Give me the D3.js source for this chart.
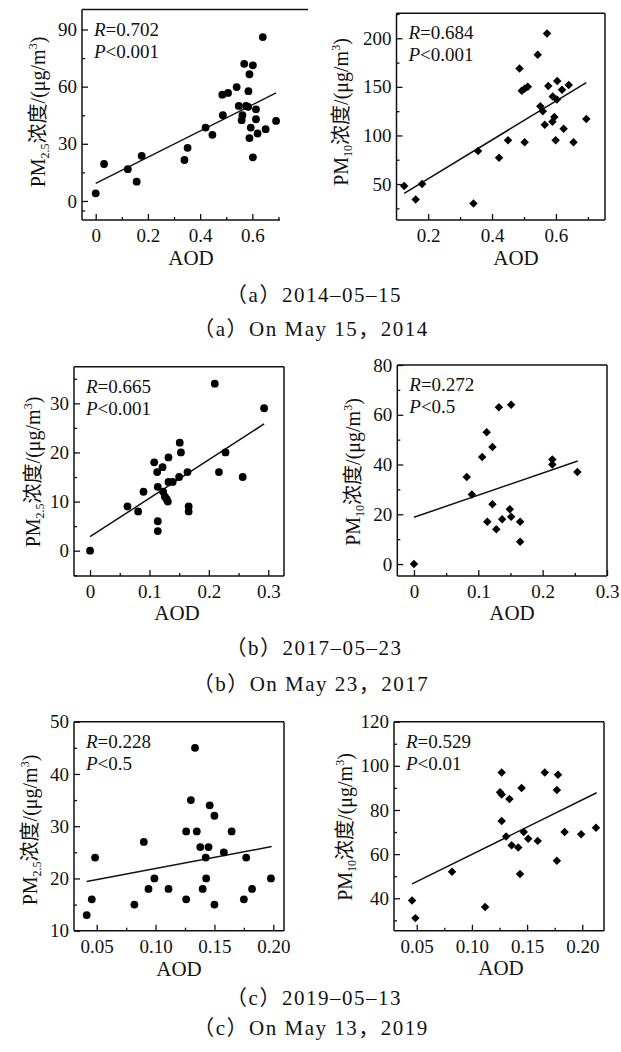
<!DOCTYPE html>
<html><head><meta charset="utf-8">
<script src="https://cdn.jsdelivr.net/npm/d3@7/dist/d3.min.js"></script>
<style>body{margin:0;background:#fff}svg{display:block}</style>
</head><body>
<svg id="chart" width="621" height="1052"></svg>
<script>
// ---------- DATA ----------
// (a) 2014-05-15
const aodA25 = [0, 0.032, 0.123, 0.157, 0.176, 0.34, 0.352, 0.421, 0.447, 0.485, 0.507, 0.487, 0.54, 0.548, 0.562, 0.559, 0.569, 0.576, 0.585, 0.589, 0.584, 0.602, 0.594, 0.589, 0.602, 0.614, 0.614, 0.62, 0.64, 0.651, 0.691];
const pmA25  = [4, 19.4, 16.7, 10.1, 23.7, 21.5, 27.9, 38.5, 34.7, 55.8, 56.7, 45, 59.8, 49.9, 45, 42.4, 72, 49.9, 57.6, 66.5, 49.4, 71.2, 38.5, 33, 22.9, 48.1, 42.9, 35.4, 86, 37.7, 42];
const aodA10 = [0.125, 0.161, 0.181, 0.342, 0.356, 0.422, 0.45, 0.486, 0.493, 0.502, 0.512, 0.502, 0.543, 0.551, 0.559, 0.572, 0.576, 0.565, 0.59, 0.595, 0.589, 0.603, 0.604, 0.599, 0.619, 0.624, 0.64, 0.655, 0.695];
const pmA10  = [48, 34, 50, 30, 84, 77, 95, 169, 146, 148, 150, 93, 183, 130, 125, 205, 151, 111, 140, 119, 114, 137, 156, 95, 147, 107, 152, 93, 117];
// (b) 2017-05-23
const aodB25 = [0, 0.063, 0.081, 0.09, 0.108, 0.113, 0.114, 0.114, 0.114, 0.122, 0.123, 0.126, 0.129, 0.132, 0.131, 0.132, 0.139, 0.151, 0.153, 0.15, 0.164, 0.166, 0.166, 0.21, 0.217, 0.228, 0.257, 0.293];
const pmB25  = [0, 9, 8, 12, 18, 16, 13, 6, 4, 17, 12, 11, 10.5, 19, 10, 14, 14, 22, 20, 15, 16, 9, 8, 34, 16, 20, 15, 29];
const aodB10 = [0, 0.082, 0.09, 0.106, 0.113, 0.114, 0.122, 0.122, 0.128, 0.132, 0.137, 0.149, 0.151, 0.151, 0.165, 0.165, 0.215, 0.215, 0.254];
const pmB10  = [0, 35, 28, 43, 53, 17, 47, 24, 14, 63, 18, 22, 19, 64, 17, 9, 42, 40, 37];
// (c) 2019-05-13
const aodC25 = [0.0415, 0.0458, 0.0486, 0.082, 0.09, 0.094, 0.099, 0.111, 0.126, 0.126, 0.13, 0.1335, 0.135, 0.138, 0.14, 0.1426, 0.143, 0.145, 0.146, 0.15, 0.15, 0.158, 0.1646, 0.177, 0.175, 0.182, 0.198];
const pmC25  = [13, 16, 24, 15, 27, 18, 20, 18, 16, 29, 35, 45, 29, 26, 18, 24, 20, 26, 34, 15, 32, 25, 29, 24, 16, 18, 20];
const aodC10 = [0.0458, 0.0488, 0.082, 0.112, 0.127, 0.1255, 0.127, 0.127, 0.131, 0.134, 0.136, 0.142, 0.1436, 0.145, 0.147, 0.151, 0.1596, 0.166, 0.177, 0.177, 0.178, 0.184, 0.199, 0.2124];
const pmC10  = [39, 31, 52, 36, 97, 88, 87, 75, 68, 85, 64, 63, 51, 90, 70, 67, 66, 97, 57, 89, 96, 70, 69, 72];

// regression lines (AOD start/end, PM start/end)
const fitX = [[0, 0.691], [0.125, 0.695], [0, 0.293], [0, 0.2545], [0.0415, 0.1986], [0.0458, 0.213]];
const fitY = [[9.2, 56.7], [40.4, 154.4], [2.85, 25.8], [18.8, 41.4], [19.4, 26.1], [46.5, 87.8]];

const rValues = ["0.702", "0.684", "0.665", "0.272", "0.228", "0.529"];
const pValues = ["0.001", "0.001", "0.001", "0.5", "0.5", "0.01"];
const pollutant = ["2.5", "10", "2.5", "10", "2.5", "10"];

// ticks
const xMajor = [[0, 0.2, 0.4, 0.6], [0.2, 0.4, 0.6], [0, 0.1, 0.2, 0.3], [0, 0.1, 0.2, 0.3], [0.05, 0.10, 0.15, 0.20], [0.05, 0.10, 0.15, 0.20]];
const xMinor = [[0.1, 0.3, 0.5, 0.7], [0.3, 0.5, 0.7], [0.05, 0.15, 0.25], [0.05, 0.15, 0.25], [0.075, 0.125, 0.175], [0.075, 0.125, 0.175]];
const yMajor = [[0, 30, 60, 90], [50, 100, 150, 200], [0, 10, 20, 30], [0, 20, 40, 60, 80], [10, 20, 30, 40, 50], [40, 60, 80, 100, 120]];
const yMinor = [[-5, 15, 45, 75], [25, 75, 125, 175, 225], [-5, 5, 15, 25, 35], [10, 30, 50, 70], [15, 25, 35, 45], [30, 50, 70, 90, 110]];
const xTickFormat = ["trim", "trim", "trim", "trim", "fixed2", "fixed2"];

const captionsCN = ["（a）2014–05–15", "（b）2017–05–23", "（c）2019–05–13"];
const captionsEN = ["（a）On May 15，2014", "（b）On May 23，2017", "（c）On May 13，2019"];

const xSeries = [aodA25, aodA10, aodB25, aodB10, aodC25, aodC10];
const ySeries = [pmA25, pmA10, pmB25, pmB10, pmC25, pmC10];

// ---------- LAYOUT ----------
const layout = [
  {l: 82,    r: 280,   t: 9.5,   b: 220,   xd: [-0.0525, 0.706], yd: [-10, 100.5], rightBorder: false, topEnd: 308, ylx: 45,  yly: 112, aodx: 191, aody: 265},
  {l: 396.5, r: 605,   t: 13.3,  b: 220,   xd: [0.101, 0.7535],  yd: [13, 225.7],  rightBorder: true,  ylx: 348, yly: 112, aodx: 516, aody: 265},
  {l: 74,    r: 284,   t: 366.7, b: 576,   xd: [-0.027, 0.3265], yd: [-5.15, 37.46], rightBorder: true, ylx: 40, yly: 472, aodx: 177, aody: 620},
  {l: 397.3, r: 607,   t: 365,   b: 576,   xd: [-0.0259, 0.3],   yd: [-4.8, 80],   rightBorder: true,  ylx: 360, yly: 472, aodx: 512, aody: 620},
  {l: 74,    r: 284,   t: 721.7, b: 930.7, xd: [0.0307, 0.2091], yd: [10, 50],     rightBorder: true,  ylx: 37,  yly: 830, aodx: 179, aody: 976},
  {l: 394,   r: 604,   t: 721.7, b: 930.7, xd: [0.0294, 0.2197], yd: [25.3, 120],  rightBorder: true,  ylx: 352, yly: 827, aodx: 501, aody: 975}
];
const captionPos = [[302, 336], [655, 691], [1005, 1035]];

const svg = d3.select("#chart");
const SERIF = "'Liberation Serif','Times New Roman','Noto Sans CJK SC',serif";
const fmtTrim = d => d3.format("~g")(d);
const fmtFixed = d3.format(".2f");

layout.forEach((L, i) => {
  const x = d3.scaleLinear().domain(L.xd).range([L.l, L.r]);
  const y = d3.scaleLinear().domain(L.yd).range([L.b, L.t]);
  const g = svg.append("g");

  // axes (ticks inward)
  const fmt = xTickFormat[i] === "fixed2" ? fmtFixed : fmtTrim;
  const xa = g.append("g").attr("transform", `translate(0,${L.b})`)
    .call(d3.axisBottom(x).tickValues(xMajor[i]).tickSize(-6).tickPadding(9).tickFormat(fmt));
  const xm = g.append("g").attr("transform", `translate(0,${L.b})`)
    .call(d3.axisBottom(x).tickValues(xMinor[i].filter(v => v >= L.xd[0] && v <= L.xd[1])).tickSize(-3).tickFormat(""));
  const ya = g.append("g").attr("transform", `translate(${L.l},0)`)
    .call(d3.axisLeft(y).tickValues(yMajor[i]).tickSize(-6).tickPadding(5).tickFormat(fmtTrim));
  const ym = g.append("g").attr("transform", `translate(${L.l},0)`)
    .call(d3.axisLeft(y).tickValues(yMinor[i].filter(v => v >= L.yd[0] && v <= L.yd[1])).tickSize(-3).tickFormat(""));
  [xa, xm, ya, ym].forEach(a => {
    a.select(".domain").remove();
    a.selectAll("line").attr("stroke", "#111").attr("stroke-width", 1.3);
    a.selectAll("text").attr("font-family", SERIF).attr("font-size", 19).attr("fill", "#111");
  });

  // frame
  const fr = g.append("g").attr("stroke", "#111").attr("stroke-width", 1.5).attr("fill", "none");
  fr.append("line").attr("x1", L.l).attr("x2", L.l).attr("y1", L.t).attr("y2", L.b);
  fr.append("line").attr("x1", L.l).attr("x2", L.r).attr("y1", L.b).attr("y2", L.b);
  fr.append("line").attr("x1", L.l).attr("x2", L.topEnd || L.r).attr("y1", L.t).attr("y2", L.t);
  if (L.rightBorder) fr.append("line").attr("x1", L.r).attr("x2", L.r).attr("y1", L.t).attr("y2", L.b);

  // regression line
  g.append("line")
    .attr("x1", x(fitX[i][0])).attr("x2", x(fitX[i][1]))
    .attr("y1", y(fitY[i][0])).attr("y2", y(fitY[i][1]))
    .attr("stroke", "#111").attr("stroke-width", 1.5);

  // points
  const pts = xSeries[i].map((v, k) => [v, ySeries[i][k]]);
  if (pollutant[i] === "2.5") {
    g.selectAll("circle.pt").data(pts).join("circle").attr("class", "pt")
      .attr("cx", d => x(d[0])).attr("cy", d => y(d[1])).attr("r", 3.9).attr("fill", "#000");
  } else {
    const sym = d3.symbol().type(d3.symbolSquare).size(36);
    g.selectAll("path.pt").data(pts).join("path").attr("class", "pt")
      .attr("d", sym).attr("transform", d => `translate(${x(d[0])},${y(d[1])}) rotate(45)`).attr("fill", "#000");
  }

  // R / P annotation
  const ann = g.append("text").attr("font-family", SERIF).attr("font-size", 19).attr("fill", "#111");
  const t1 = ann.append("tspan").attr("x", L.l + 12).attr("y", L.t + 26);
  t1.append("tspan").attr("font-style", "italic").text("R");
  t1.append("tspan").text("=" + rValues[i]);
  const t2 = ann.append("tspan").attr("x", L.l + 12).attr("y", L.t + 48);
  t2.append("tspan").attr("font-style", "italic").text("P");
  t2.append("tspan").text("<" + pValues[i]);

  // y label
  const yl = g.append("text").attr("transform", `translate(${L.ylx},${L.yly}) rotate(-90)`)
    .attr("text-anchor", "middle").attr("font-family", SERIF).attr("font-size", 20).attr("fill", "#111");
  yl.append("tspan").text("PM");
  yl.append("tspan").attr("font-size", 12).attr("dy", 4).text(pollutant[i]);
  yl.append("tspan").attr("dy", -4).text("浓度/(μg/m");
  yl.append("tspan").attr("font-size", 12).attr("dy", -8).text("3");
  yl.append("tspan").attr("dy", 8).text(")");

  // x label
  g.append("text").attr("x", L.aodx).attr("y", L.aody).attr("text-anchor", "middle")
    .attr("font-family", SERIF).attr("font-size", 21).attr("fill", "#111").text("AOD");
});

// captions
captionPos.forEach((p, j) => {
  svg.append("text").attr("x", 314).attr("y", p[0]).attr("text-anchor", "middle")
    .attr("font-family", SERIF).attr("font-size", 21).attr("letter-spacing", 1.5).attr("fill", "#111").text(captionsCN[j]);
  svg.append("text").attr("x", 311).attr("y", p[1]).attr("text-anchor", "middle")
    .attr("font-family", SERIF).attr("font-size", 21).attr("letter-spacing", 1.5).attr("fill", "#111").text(captionsEN[j]);
});
</script>
</body></html>
